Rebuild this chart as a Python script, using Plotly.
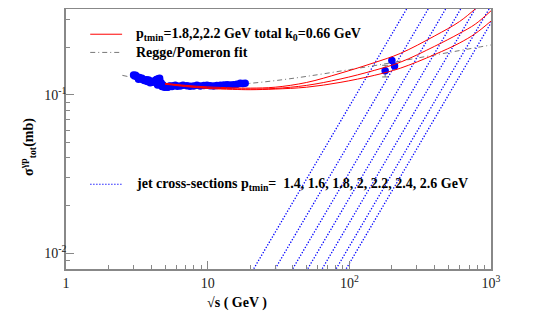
import plotly.graph_objects as go

# low energy photoproduction data (sqrt(s) in GeV, sigma in mb)
data_x = [3.0, 3.05, 3.1, 3.17, 3.25, 3.3, 3.38, 3.44, 3.5, 3.56, 3.63, 3.7, 3.76, 3.83, 3.93, 4.0,
          4.08, 4.15, 4.25, 4.32, 4.39, 4.43, 4.5, 4.58, 4.63, 4.68, 4.75, 4.82, 4.88, 4.95, 5.05,
          5.16, 5.25, 5.35, 5.45, 5.6, 5.75, 5.91, 6.1, 6.41, 6.7, 7.14, 7.5, 7.95, 8.4, 8.87, 9.4,
          9.89, 10.4, 11.0, 11.6, 12.3, 13.0, 13.7, 14.4, 15.2, 16.1, 17.0, 17.7, 18.4]
data_y = [0.1338, 0.1320, 0.1330, 0.1305, 0.1257, 0.1290, 0.1265, 0.1276, 0.1250, 0.1240, 0.1231,
          0.1250, 0.1215, 0.1244, 0.1196, 0.1220, 0.1205, 0.1214, 0.1230, 0.1250, 0.1257, 0.1156,
          0.1265, 0.1276, 0.1173, 0.1200, 0.1130, 0.1160, 0.1140, 0.1118, 0.1125, 0.1129, 0.1118,
          0.1135, 0.1140, 0.1130, 0.1145, 0.1151, 0.1135, 0.1140, 0.1150, 0.1145, 0.1135, 0.1140,
          0.1150, 0.1140, 0.1146, 0.1151, 0.1142, 0.1140, 0.1148, 0.1151, 0.1155, 0.1162, 0.1158,
          0.1162, 0.1170, 0.1185, 0.1180, 0.1185]

# high energy HERA points
hera_x = [179, 199.6, 208.5]
hera_y = [0.142, 0.165, 0.1525]
hera_err = [0.012, 0.0, 0.0]

# total cross-section curves, ptmin = 1.8, 2, 2.2 GeV
curve_x = [5, 7, 10, 15, 20, 30, 50, 86, 150, 229, 400, 600, 774, 1000]
curve_18 = [0.1185, 0.1150, 0.1125, 0.1110, 0.1105, 0.1120, 0.1200, 0.1370, 0.1600, 0.1830,
            0.2360, 0.2910, 0.3490, 0.4200]
curve_20 = [0.1180, 0.1140, 0.1110, 0.1095, 0.1090, 0.1100, 0.1150, 0.1260, 0.1430, 0.1610,
            0.2030, 0.2450, 0.2800, 0.3400]
curve_22 = [0.1170, 0.1130, 0.1100, 0.1085, 0.1080, 0.1090, 0.1120, 0.1200, 0.1330, 0.1476,
            0.1800, 0.2130, 0.2440, 0.2930]

# Regge/Pomeron fit
regge_x = [2.5, 3, 4, 5, 7, 10, 15, 20, 30, 50, 100, 200, 300, 500, 1000]
regge_y = [0.1330, 0.1285, 0.1215, 0.1179, 0.1149, 0.1143, 0.1160, 0.1185, 0.1232, 0.1311,
           0.1445, 0.1600, 0.1710, 0.1853, 0.2070]

# jet cross-sections, ptmin = 1.4 ... 2.6 GeV (sqrt(s) where sigma=0.008 and 0.4 mb)
jet_ptmin = [1.4, 1.6, 1.8, 2, 2.2, 2.4, 2.6]
jet_x_lo = [21.15, 30.0, 39.9, 50.9, 64.4, 80.8, 95.1]
jet_x_hi = [277.5, 394, 523, 668, 845, 1060, 1248]
jet_y = [0.008, 0.4]

SERIF = "Liberation Serif"
JET_DASH = '1.3px,1.7px'

fig = go.Figure()

for lo, hi, pt in zip(jet_x_lo, jet_x_hi, jet_ptmin):
    fig.add_trace(go.Scatter(x=[lo, hi], y=jet_y, mode='lines', name=f'jet {pt}',
                             line=dict(color='#0000ff', width=1.3, dash=JET_DASH)))

fig.add_trace(go.Scatter(x=regge_x, y=regge_y, mode='lines', name='Regge',
                         line=dict(color='#777777', width=1, dash='5px,3px,1px,3px', shape='spline')))

fig.add_trace(go.Scatter(x=data_x, y=data_y, mode='markers', name='data',
                         marker=dict(color='#0000ff', size=7.5)))
fig.add_trace(go.Scatter(x=hera_x, y=hera_y, mode='markers', name='hera',
                         error_y=dict(type='data', array=hera_err, color='#777777',
                                      thickness=1, width=3),
                         marker=dict(color='#0000ff', size=7.5)))

for cy in [curve_18, curve_20, curve_22]:
    fig.add_trace(go.Scatter(x=curve_x, y=cy, mode='lines',
                             line=dict(color='#ff0000', width=1, shape='spline')))

# hand-made legend
leg = [(0.903, '#ff0000', 'solid', 'p<sub>tmin</sub>=1.8,2,2.2 GeV total k<sub>0</sub>=0.66 GeV'),
       (0.833, '#777777', '5px,3px,1px,3px', 'Regge/Pomeron fit'),
       (0.326, '#0000ff', JET_DASH,
        'jet cross-sections p<sub>tmin</sub>=  1.4, 1.6, 1.8, 2, 2.2, 2.4, 2.6 GeV')]
for ly, col, dsh, txt in leg:
    fig.add_shape(type='line', xref='paper', yref='paper', x0=0.057, x1=0.132, y0=ly, y1=ly,
                  line=dict(color=col, width=1.2 if col == '#0000ff' else 1, dash=dsh))
    fig.add_annotation(xref='paper', yref='paper', x=0.159, y=ly, xanchor='left', yanchor='middle',
                       text='<b>' + txt + '</b>', showarrow=False,
                       font=dict(family=SERIF, size=14, color='black'))

fig.add_annotation(xref='paper', yref='paper', x=0.403, y=-0.131, showarrow=False,
                   xanchor='center', yanchor='middle',
                   text='<b>√s ( GeV )</b>', font=dict(family=SERIF, size=14, color='black'))
fig.add_annotation(xref='paper', yref='paper', x=-0.089, y=0.47, showarrow=False, textangle=-90,
                   xanchor='center', yanchor='middle',
                   text='<b>σ<sup>γp</sup><sub>tot</sub>(mb)</b>',
                   font=dict(family=SERIF, size=14, color='black'))

x_minor = [2, 3, 4, 5, 6, 7, 8, 9, 20, 30, 40, 50, 60, 70, 80, 90,
           200, 300, 400, 500, 600, 700, 800, 900]
y_minor = [0.009, 0.02, 0.03, 0.04, 0.05, 0.06, 0.07, 0.08, 0.09, 0.2, 0.3]

fig.update_xaxes(type='log', range=[0, 3], showgrid=False, zeroline=False, automargin=False,
                 showline=True, linecolor='#888888', linewidth=1.5, mirror=True,
                 ticks='inside', ticklen=8, tickcolor='#888888',
                 tickvals=[1, 10, 100, 1000], ticktext=['1', '10', '10<sup>2</sup>', '10<sup>3</sup>'],
                 tickfont=dict(family=SERIF, size=14, color='#222222'),
                 minor=dict(ticks='inside', ticklen=4, tickcolor='#888888', tickvals=x_minor))
fig.update_yaxes(type='log', range=[-2.099, -0.457], showgrid=False, zeroline=False, automargin=False,
                 showline=True, linecolor='#888888', linewidth=1.5, mirror=True,
                 ticks='inside', ticklen=8, tickcolor='#888888', ticklabelstandoff=-5,
                 tickvals=[0.01, 0.1], ticktext=['10<sup>-2</sup>', '10<sup>-1</sup>'],
                 tickfont=dict(family=SERIF, size=14, color='#222222'),
                 minor=dict(ticks='inside', ticklen=4, tickcolor='#888888', tickvals=y_minor))

# page body adds an 8px offset, so the figure is a bit smaller than the window
fig.update_layout(width=549, height=319, showlegend=False,
                  margin=dict(l=58, r=66, t=1, b=58),
                  paper_bgcolor='white', plot_bgcolor='white')

fig.write_html("out.html")
